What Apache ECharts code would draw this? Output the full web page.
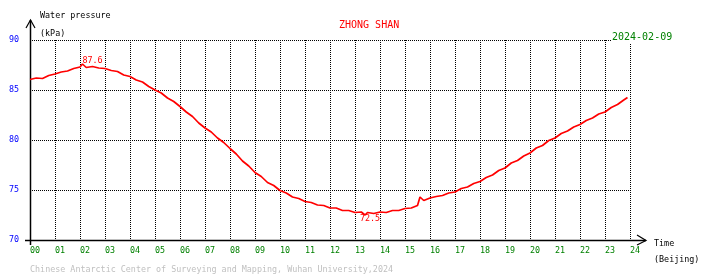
<!DOCTYPE html>
<html><head><meta charset="utf-8">
<script src="https://cdn.jsdelivr.net/npm/echarts@6/dist/echarts.min.js"></script>
<style>html,body{margin:0;padding:0;background:#fff}#c{width:710px;height:278px}</style>
</head><body><div id="c"></div>
<script>
const hours = [0.00,0.25,0.50,0.75,1.00,1.25,1.50,1.75,2.00,2.10,2.25,2.50,2.75,3.00,3.25,3.50,3.75,
  4.00,4.25,4.50,4.75,5.00,5.25,5.50,5.75,6.00,6.25,6.50,6.75,7.00,7.25,7.50,7.75,8.00,8.25,8.50,8.75,
  9.00,9.25,9.50,9.75,10.00,10.25,10.50,10.75,11.00,11.25,11.50,11.75,12.00,12.25,12.50,12.75,13.00,13.25,
  13.40,13.50,13.75,14.00,14.25,14.50,14.75,15.00,15.25,15.50,15.60,15.75,16.00,16.25,16.50,16.75,17.00,
  17.25,17.50,17.75,18.00,18.25,18.50,18.75,19.00,19.25,19.50,19.75,20.00,20.25,20.50,20.75,21.00,21.25,
  21.50,21.75,22.00,22.25,22.50,22.75,23.00,23.25,23.50,23.75,23.90];
const pressure = [86.05,86.20,86.15,86.45,86.60,86.80,86.90,87.15,87.30,87.60,87.25,87.35,87.20,87.15,86.95,86.85,86.50,
  86.35,86.00,85.80,85.35,85.00,84.70,84.20,83.85,83.35,82.80,82.35,81.70,81.20,80.80,80.20,79.75,79.15,78.60,77.90,77.40,
  76.75,76.35,75.75,75.45,74.95,74.70,74.30,74.15,73.85,73.75,73.50,73.45,73.20,73.20,72.95,72.95,72.75,72.80,
  72.50,72.75,72.65,72.80,72.75,72.95,72.95,73.15,73.20,73.45,74.30,73.95,74.20,74.35,74.45,74.70,74.80,
  75.15,75.30,75.65,75.85,76.25,76.50,76.95,77.20,77.70,77.95,78.40,78.70,79.20,79.45,79.95,80.20,80.65,
  80.90,81.30,81.55,81.95,82.20,82.60,82.80,83.25,83.55,84.00,84.25];
const xTickLabels = ['00','01','02','03','04','05','06','07','08','09','10','11','12',
  '13','14','15','16','17','18','19','20','21','22','23','24'];
const yTicks = [70,75,80,85,90];
const stationName = 'ZHONG SHAN';
const dateText = '2024-02-09';
const yName = ['Water pressure','(kPa)'];
const xName = ['Time','(Beijing)'];
const footer = 'Chinese Antarctic Center of Surveying and Mapping, Wuhan University,2024';

const FONT = '"DejaVu Sans Mono", monospace';
const FS = 8.4;
const chart = echarts.init(document.getElementById('c'), null, {renderer:'canvas'});
const data = hours.map((h,i)=>[h, pressure[i]]);
chart.setOption({
  animation:false,
  grid:{left:30, top:40, width:600, height:200},
  xAxis:{type:'value', min:0, max:24, interval:1,
    axisLine:{show:false}, axisTick:{show:false},
    splitLine:{show:true, lineStyle:{color:'#000', type:[1,1], width:1}},
    axisLabel:{align:'left', margin:7, color:'#008000', fontFamily:FONT, fontSize:FS,
      formatter:v=>xTickLabels[Math.round(v)]}},
  yAxis:{type:'value', min:yTicks[0], max:yTicks[yTicks.length-1], interval:5,
    axisLine:{show:false}, axisTick:{show:false},
    splitLine:{show:true, lineStyle:{color:'#000', type:[1,1], width:1}},
    axisLabel:{margin:11, color:'#0000ff', fontFamily:FONT, fontSize:FS, padding:[0,0,4,0]}},
  series:[{type:'line', data, symbol:'none', lineStyle:{color:'#ff0000', width:1.7},
    markPoint:{symbol:'circle', symbolSize:1, itemStyle:{color:'rgba(0,0,0,0)'},
      label:{show:true, color:'#ff0000', fontFamily:FONT, fontSize:FS, formatter:p=>p.value.toFixed(1)},
      data:[{type:'max', label:{position:'top', offset:[10,6]}},
            {type:'min', label:{position:'bottom', offset:[5,-6]}}]}}]
});
const o = chart.convertToPixel({gridIndex:0},[0,70]);
const e = chart.convertToPixel({gridIndex:0},[24,90]);
const ox=o[0], oy=o[1], ty=e[1], rx=e[0];
const txt = (x,y,s,color,size,extra)=>Object.assign({type:'text', x, y,
  style:{text:s, fill:color, font:size+'px '+FONT, textVerticalAlign:'middle', textAlign:'left'}}, extra||{});
chart.setOption({graphic:[
  {type:'polyline', shape:{points:[[ox+0.5,oy+5],[ox+0.5,ty-20]]}, style:{stroke:'#000', lineWidth:1.5, fill:null}},
  {type:'polyline', shape:{points:[[ox-4,ty-12],[ox+0.5,ty-20],[ox+5,ty-12]]}, style:{stroke:'#000', lineWidth:1.2, fill:null}},
  {type:'polyline', shape:{points:[[ox-5,oy+0.5],[rx+16,oy+0.5]]}, style:{stroke:'#000', lineWidth:1.5, fill:null}},
  {type:'polyline', shape:{points:[[rx+7,oy-5],[rx+16,oy+0.5],[rx+7,oy+5]]}, style:{stroke:'#000', lineWidth:1.2, fill:null}},
  txt(ox+10, 16, yName[0], '#000', FS),
  txt(ox+10, 34, yName[1], '#000', FS),
  txt(rx+24, oy+4, xName[0], '#000', FS),
  txt(rx+24, oy+20, xName[1], '#000', FS),
  txt(339, 25, stationName, '#ff0000', 10),
  {type:'text', x:611, y:37, z:100, style:{text:dateText, fill:'#008000', font:'10px '+FONT,
    textVerticalAlign:'middle', textAlign:'left', backgroundColor:'#fff', padding:[1,1,1,1]}},
  txt(ox, 270, footer, '#c0c0c0', FS)
]});
</script></body></html>
